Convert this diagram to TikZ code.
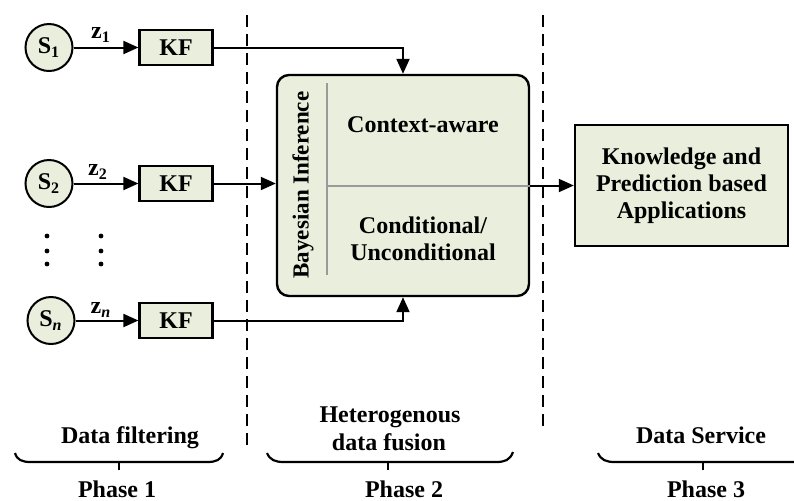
\documentclass[tikz,border=0pt]{standalone}
\usepackage{fontspec}
\setmainfont{Liberation Serif}
\usetikzlibrary{arrows.meta,calc}
\definecolor{boxfill}{HTML}{E9EFDC}
\definecolor{innerline}{HTML}{9A9A9A}
\begin{document}
\begin{tikzpicture}[x=0.5pt,y=-0.5pt,
  every node/.style={font=\bfseries\fontsize{12}{13.5}\selectfont},
  sensor/.style={circle,draw,line width=1pt,fill=boxfill,minimum size=23.5pt,inner sep=0pt},
  kfbox/.style={draw,line width=1.1pt,fill=boxfill,minimum width=36.5pt,minimum height=17.5pt,inner sep=0pt},
  fusionbox/.style={draw,line width=1.2pt,fill=boxfill,rounded corners=6pt,minimum width=126pt,minimum height=110.5pt,inner sep=0pt},
  appbox/.style={draw,line width=1.2pt,fill=boxfill,minimum width=106.5pt,minimum height=60.5pt,align=center,inner sep=0pt},
  conn/.style={line width=1pt,-{Triangle[length=7.5pt,width=6.5pt]}},
  innerl/.style={draw=innerline,line width=1pt},
  sepline/.style={line width=0.75pt,dash pattern=on 6pt off 3.5pt},
  bracel/.style={line width=1.1pt}
]
\useasboundingbox (0,0) rectangle (794,500);

% separators
\draw[sepline] (247,15) -- (247,452);
\draw[sepline] (543,15) -- (543,428);

% sensors and filters
\node[sensor] (s1) at (49,47.5) {S\textsubscript{1}};
\node[sensor] (s2) at (49,183.5) {S\textsubscript{2}};
\node[sensor] (sn) at (51,320.5) {S\textsubscript{\itshape n}};
\node[kfbox] (kf1) at (176,47.5) {KF};
\node[kfbox] (kf2) at (176,183.5) {KF};
\node[kfbox] (kfn) at (176,320.5) {KF};
\node (z1) at (101,35) {z\textsubscript{1}};
\node (z2) at (98,172) {z\textsubscript{2}};
\node (zn) at (101,310) {z\textsubscript{\itshape n}};

% vertical dots
\foreach \yy in {236,251,264}{
  \fill (47,\yy) circle (1.2pt);
  \fill (101,\yy) circle (1.2pt);
}

% fusion box
\node[fusionbox] (fuse) at (403,185.5) {};
\draw[innerl] (327,83) -- (327,275);
\draw[innerl] (327,185.5) -- (fuse.east);
\node[rotate=90,font=\bfseries\fontsize{11.5}{13}\selectfont] (bayes) at (303,185) {Bayesian Inference};
\node (ctx) at (423,125) {Context-aware};
\node[align=center] (cond) at (423,239) {Conditional/\\Unconditional};

% application box
\node[appbox] (app) at (681.5,185.5) {Knowledge and\\Prediction based\\Applications};

% connectors
\draw[conn] (s1.east) -- (kf1.west);
\draw[conn] (s2.east) -- (kf2.west);
\draw[conn] (sn.east) -- (kfn.west);
\draw[conn] (kf1.east) -| (fuse.north);
\draw[conn] (kf2.east) -- (kf2.east -| fuse.west);
\draw[conn] (kfn.east) -| (fuse.south);
\draw[conn] (fuse.east) -- (app.west);

% phase labels
\node[anchor=base] (df) at (130,443) {Data filtering};
\node[anchor=base] (hdf1) at (390,422) {Heterogenous};
\node[anchor=base] (hdf2) at (389,450) {data fusion};
\node[anchor=base] (ds) at (701,443) {Data Service};
\node[anchor=base] (p1) at (117,497) {Phase 1};
\node[anchor=base] (p2) at (404,497) {Phase 2};
\node[anchor=base] (p3) at (706,497) {Phase 3};

% braces
\draw[bracel] (15,453) .. controls (17,460) and (22,462) .. (31,462) -- (207,462) .. controls (216,462) and (221,460) .. (223,453);
\draw[bracel] (119,462) -- (119,470);
\draw[bracel] (267,453) .. controls (270,460) and (275,462) .. (284,462) -- (496,462) .. controls (505,462) and (510,460) .. (513,452);
\draw[bracel] (388,462) -- (388,470);
\draw[bracel] (598,453) .. controls (601,460) and (606,462) .. (615,462) -- (794,462);
\draw[bracel] (703,462) -- (703,470);
\end{tikzpicture}
\end{document}
